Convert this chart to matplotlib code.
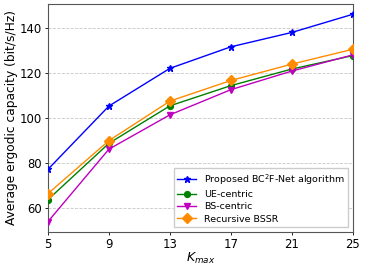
import numpy as np
import matplotlib.pyplot as plt

# K_max values on the x axis
k_max = [5, 9, 13, 17, 21, 25]

# average ergodic capacity (bit/s/Hz)
proposed = [77.2, 105.4, 122.2, 131.8, 138.2, 146.3]
ue_centric = [63.7, 88.8, 105.5, 114.5, 121.9, 127.9]
bs_centric = [53.9, 86.2, 101.5, 112.7, 121.0, 128.2]
recursive_bssr = [66.4, 90.0, 107.6, 116.8, 124.1, 130.7]

fig = plt.figure(figsize=(3.66, 2.69), dpi=100)
ax = fig.add_axes([0.131, 0.1375, 0.833, 0.848])

ax.grid(True, axis='y', linestyle='--', color='#c8c8c8', linewidth=0.6, zorder=0)
ax.plot(k_max, proposed, color='blue', marker='*', markersize=5, linewidth=1,
        label=r'Proposed BC$^2$F-Net algorithm', zorder=3)
ax.plot(k_max, ue_centric, color='green', marker='o', markersize=4.2, linewidth=1,
        label='UE-centric', zorder=3)
ax.plot(k_max, bs_centric, color='m', marker='v', markersize=4.5, linewidth=1,
        label='BS-centric', zorder=3)
ax.plot(k_max, recursive_bssr, color='darkorange', marker='D', markersize=5, linewidth=1,
        label='Recursive BSSR', zorder=3)

ax.set_xticks(k_max)
ax.set_xlim(5, 25)
ax.set_yticks([60, 80, 100, 120, 140])
ax.tick_params(labelsize=8.4, length=2.5, width=0.6, pad=2)
for s in ax.spines.values():
    s.set_color('#555555')
    s.set_linewidth(0.8)

ax.set_xlabel(r'$K_{max}$', fontsize=9, labelpad=0)
ax.set_ylabel('Average ergodic capacity (bit/s/Hz)', fontsize=8.8, labelpad=1)
ax.legend(loc='lower right', fontsize=6.8, handlelength=2, borderpad=0.4,
          labelspacing=0.35, framealpha=1, edgecolor='#cccccc', fancybox=False)

plt.savefig('out.png', dpi=100)
